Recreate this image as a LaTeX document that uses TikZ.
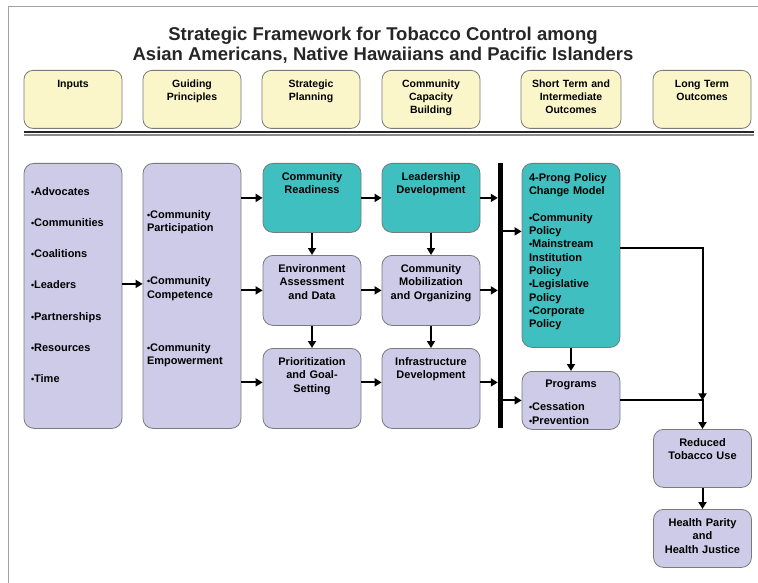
\documentclass[tikz,border=0pt]{standalone}
\usepackage{fontspec}
\setmainfont{Liberation Sans}
\usetikzlibrary{arrows.meta}
\definecolor{hdyellow}{HTML}{FAF6C9}
\definecolor{lavfill}{HTML}{CDCBE7}
\definecolor{tealfill}{HTML}{3FBFBF}
\definecolor{boxline}{HTML}{7A7A7A}
\newcommand{\bul}{{\fontsize{9}{9}\selectfont\textbullet}}
\tikzstyle{headbox}=[rounded corners=9pt, draw=boxline, line width=0.8pt, fill=hdyellow, anchor=north, text width=90pt, inner xsep=4pt, inner ysep=3pt, align=center, text height=14pt, text depth=38pt, font=\fontsize{10.5}{13.3}\selectfont\bfseries]
\tikzstyle{lavbox}=[rounded corners=10pt, draw=boxline, line width=0.8pt, fill=lavfill, anchor=north, text width=90pt, inner xsep=4pt, inner ysep=3pt, align=center, text height=14pt, font=\fontsize{11}{13.3}\selectfont\bfseries]
\tikzstyle{tealbox}=[lavbox, fill=tealfill]
\tikzstyle{arr}=[line width=2pt, -{Triangle[length=7pt, width=8pt]}]

\begin{document}
\begin{tikzpicture}[x=1pt, y=-1pt]

\useasboundingbox (0,0) rectangle (758,583);
\draw [boxline!70, line width=1pt] (8,583) -- (8,7) -- (758,7);

\node [anchor=base, align=center, text=black!85, font=\fontsize{18.5}{20.5}\selectfont\bfseries] (title) at (383,61) {Strategic Framework for Tobacco Control among\\Asian Americans, Native Hawaiians and Pacific Islanders};

\node [headbox] (hIn) at (73,70) {Inputs};
\node [headbox] (hGP) at (192,70) {Guiding\\Principles};
\node [headbox] (hSP) at (311,70) {Strategic\\Planning};
\node [headbox] (hCC) at (431,70) {Community\\Capacity\\Building};
\node [headbox, text width=92pt] (hST) at (571,70) {Short Term and\\Intermediate\\Outcomes};
\node [headbox] (hLT) at (702,70) {Long Term\\Outcomes};

\draw [line width=2.5pt, black!85] (24,132) -- (754,132);
\draw [line width=1.5pt, black!45] (24,135) -- (754,135);

\node [lavbox, align=left, text width=84pt, inner xsep=7pt, text height=29pt, text depth=230pt] (in) at (73,163) {\bul Advocates\\[17.9pt]\bul Communities\\[17.9pt]\bul Coalitions\\[17.9pt]\bul Leaders\\[17.9pt]\bul Partnerships\\[17.9pt]\bul Resources\\[17.9pt]\bul Time};
\node [lavbox, align=left, text height=52pt, text depth=207pt] (gp) at (192,163) {\bul Community\\Participation\\[39.9pt]\bul Community\\Competence\\[39.9pt]\bul Community\\Empowerment};

\node [tealbox, text depth=49pt] (cr) at (312,163) {Community\\Readiness};
\node [tealbox, text depth=49pt] (ld) at (431,163) {Leadership\\Development};
\node [lavbox, text depth=50pt] (ea) at (312,255) {Environment\\Assessment\\and Data};
\node [lavbox, text depth=50pt] (cm) at (431,255) {Community\\Mobilization\\and Organizing};
\node [lavbox, text depth=60pt] (pg) at (312,348) {Prioritization\\and Goal-\\Setting};
\node [lavbox, text depth=60pt] (id) at (431,348) {Infrastructure\\Development};

\node [fill=black, minimum width=5pt, minimum height=265pt, inner sep=0pt] (bar) at (500.5,295.5) {};

\node [tealbox, align=left, text width=84pt, inner xsep=7pt, text height=15pt, text depth=163pt] (pm) at (571,163) {4-Prong Policy\\Change Model\\[13.3pt]\bul Community\\Policy\\\bul Mainstream\\Institution\\Policy\\\bul Legislative\\Policy\\\bul Corporate\\Policy};
\node [lavbox, align=left, text width=84pt, inner xsep=7pt, text height=13pt, text depth=39pt] (pr) at (571,371) {\makebox[\linewidth]{Programs}\\[10pt]\bul Cessation\\\bul Prevention};

\node [lavbox, text depth=38pt] (rtu) at (702.5,429) {Reduced\\Tobacco Use};
\node [lavbox, text depth=38pt] (hp) at (702.5,509) {Health Parity\\and\\Health Justice};

\coordinate (pgin) at ([yshift=6pt]pg.west);
\coordinate (pgout) at ([yshift=6pt]pg.east);
\coordinate (idin) at ([yshift=6pt]id.west);
\coordinate (idout) at ([yshift=6pt]id.east);
\coordinate (pmin) at ([yshift=24pt]pm.west);
\coordinate (pmout) at ([yshift=7pt]pm.east);
\coordinate (jn) at (rtu.north |- pr.east);

\draw [arr] ([yshift=12pt]in.east) -- ([yshift=12pt]gp.west);
\draw [arr] (gp.east |- cr.west) -- (cr.west);
\draw [arr] (gp.east |- ea.west) -- (ea.west);
\draw [arr] (gp.east |- pgin) -- (pgin);

\draw [arr] (cr) -- (ld);
\draw [arr] (ea) -- (cm);
\draw [arr] (pgout) -- (idin);

\draw [arr] (cr) -- (ea);
\draw [arr] (ea) -- (pg);
\draw [arr] (ld) -- (cm);
\draw [arr] (cm) -- (id);

\draw [arr] (ld.east) -- (bar.west |- ld.east);
\draw [arr] (cm.east) -- (bar.west |- cm.east);
\draw [arr] (idout) -- (bar.west |- idout);

\draw [arr] (bar.east |- pmin) -- (pmin);
\draw [arr] (bar.east |- pr.west) -- (pr.west);
\draw [arr] (pm) -- (pr);

\draw [arr] (pmout) -| (jn);
\draw [arr] (pr.east) -| (rtu.north);
\draw [arr] (rtu) -- (hp);

\end{tikzpicture}
\end{document}
